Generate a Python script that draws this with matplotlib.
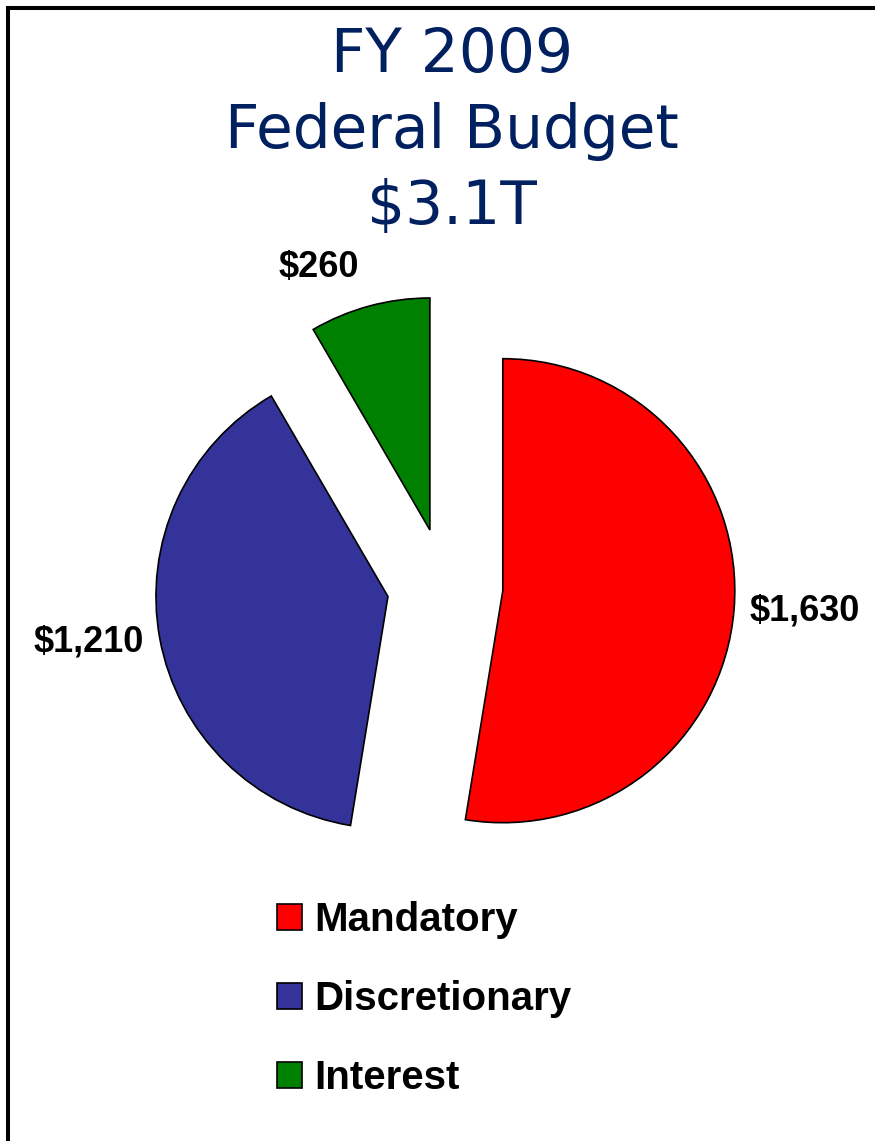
import numpy as np
import matplotlib
matplotlib.use("Agg")
import matplotlib.pyplot as plt
from matplotlib.patches import Rectangle

# FY 2009 federal budget, billions of dollars
categories = ["Mandatory", "Discretionary", "Interest"]
amounts = [1630, 1210, 260]
value_labels = ["$1,630", "$1,210", "$260"]
colors = ["#FF0000", "#333399", "#008000"]
title_lines = ["FY 2009", "Federal Budget", "$3.1T"]

# how far out each value label sits (fraction of radius)
label_dist = [1.065, 1.07, 1.17]

W, H = 875, 1141
fig = plt.figure(figsize=(W / 100, H / 100), dpi=100)
fig.patch.set_facecolor("white")

# axes in pixel units, origin at the pie centre
cx, cy = 445, 586
ax = fig.add_axes([0, 0, 1, 1])

radius = 232
# pie() does not scale explode by radius, so do it here
wedges, texts = ax.pie(
    amounts,
    labels=value_labels,
    colors=colors,
    explode=[0.25 * radius] * len(amounts),
    startangle=90,
    counterclock=False,
    radius=radius,
    center=(0, 0),
    labeldistance=1.07,
    wedgeprops=dict(edgecolor="black", linewidth=1.2),
    textprops=dict(fontsize=26, fontweight="bold", family="Liberation Sans"),
)
ax.set_xlim(-cx, W - cx)
ax.set_ylim(-(H - cy), cy)
ax.set_aspect("equal")
ax.axis("off")

# push labels out per slice, measured from each exploded wedge centre
for w, t, d in zip(wedges, texts, label_dist):
    mid = np.deg2rad((w.theta1 + w.theta2) / 2)
    wx, wy = w.center
    t.set_position((wx + d * radius * np.cos(mid), wy + d * radius * np.sin(mid)))

# title, three centred lines
baselines = [72, 148, 224]
for line, yb in zip(title_lines, baselines):
    fig.text(452 / W, 1 - yb / H, line, ha="center", va="baseline",
             fontsize=43, color="#002060", family="DejaVu Sans")

leg = fig.legend(
    wedges, categories,
    loc="center left",
    bbox_to_anchor=(277 / W, 1 - 999 / H),
    frameon=False,
    borderpad=0,
    borderaxespad=0,
    handlelength=0.62,
    handleheight=0.62,
    handletextpad=0.3,
    labelspacing=1.02,
    prop=dict(size=29, weight="bold", family="Liberation Sans"),
)
for h in leg.legend_handles:
    h.set_edgecolor("black")
    h.set_linewidth(1.2)

# outer frame (right and bottom run off the page)
fig.patches.append(Rectangle((8 / W, -0.1), 2, 1.1 - 8 / H, transform=fig.transFigure,
                             fill=False, edgecolor="black", linewidth=2.9))

fig.savefig("out.png", dpi=100)
